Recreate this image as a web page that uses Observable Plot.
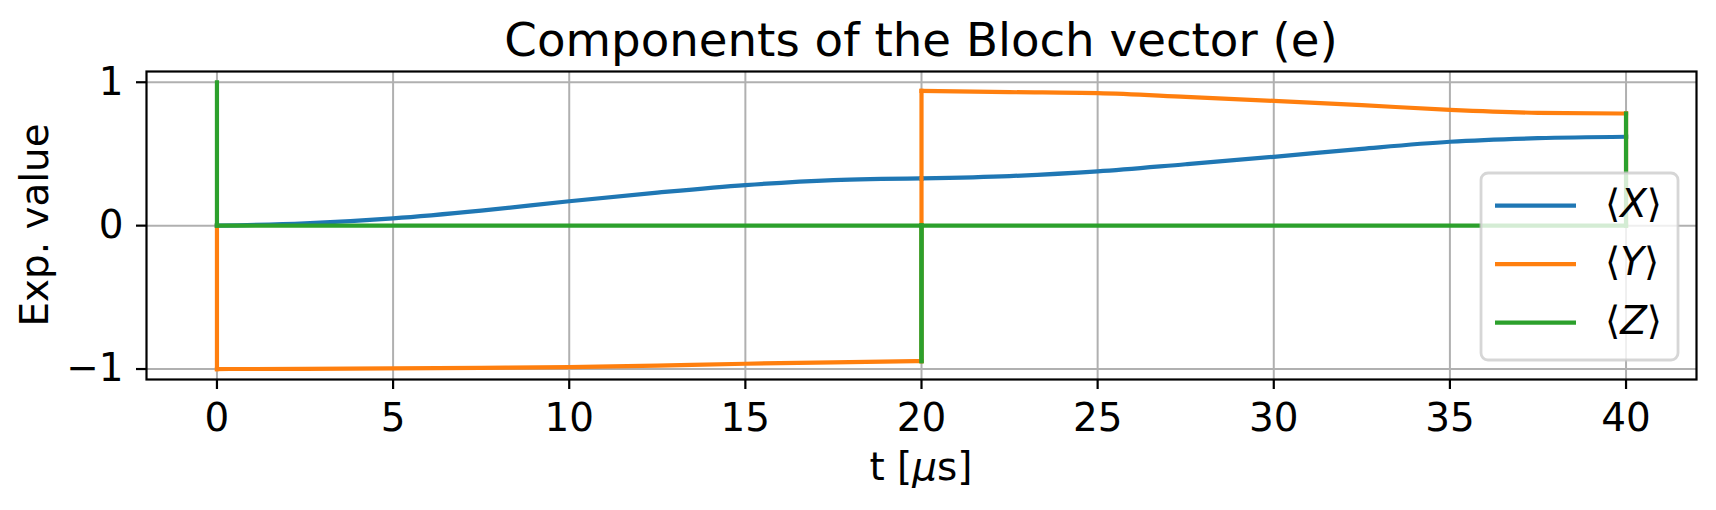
<!DOCTYPE html>
<html><head><meta charset="utf-8">
<script src="https://cdn.jsdelivr.net/npm/d3@7"></script>
<script src="https://cdn.jsdelivr.net/npm/@observablehq/plot@0.6"></script>
<style>
html,body{margin:0;padding:0;background:#fff;}
#chart{width:1716px;height:510px;}
</style></head><body><div id="chart"></div>
<script>
// ---- data ----
const times   = [0, 0, 2.5, 5, 7.5, 10, 12.5, 15, 17.5, 20, 20, 20, 22.5, 25, 27.5, 30, 32.5, 35, 37.5, 40, 40];
const xValues = [0, 0, 0.016, 0.051, 0.105, 0.17, 0.23, 0.283, 0.318, 0.33, 0.33, 0.33, 0.346, 0.378, 0.428, 0.48, 0.536, 0.585, 0.61, 0.62, 0.62];
const yValues = [0, -1, -0.999, -0.996, -0.992, -0.987, -0.976, -0.963, -0.953, -0.945, 0, 0.94, 0.931, 0.924, 0.898, 0.87, 0.84, 0.808, 0.787, 0.782, 0];
const zValues = [1, 0, 0, 0, 0, 0, 0, 0, 0, 0, -0.945, 0, 0, 0, 0, 0, 0, 0, 0, 0, 0.782];
const seriesKeys = ["X", "Y", "Z"];
const seriesValues = [xValues, yValues, zValues];
const seriesColors = ["#1f77b4", "#ff7f0e", "#2ca02c"];
const xTicks = [0, 5, 10, 15, 20, 25, 30, 35, 40];
const yTicks = [-1, 0, 1];
const titleText = "Components of the Bloch vector (e)";
const yLabelText = "Exp. value";

// split each series into smooth runs (increasing t) and instantaneous jumps (equal t)
function toRows(vals) {
  const rows = [];
  let seg = 0;
  let cur = [{t: times[0], v: vals[0]}];
  const flush = () => { if (cur.length > 1) { cur.forEach(p => rows.push({...p, seg})); seg++; } };
  for (let i = 1; i < times.length; i++) {
    const p = {t: times[i], v: vals[i]};
    if (times[i] === times[i - 1]) {
      flush();
      rows.push({t: times[i - 1], v: vals[i - 1], seg}, {...p, seg});
      seg++;
      cur = [p];
    } else cur.push(p);
  }
  flush();
  return rows;
}

const W = 1716, H = 510, mL = 146, mR = 20, mT = 71, mB = 131;
const FS = 38.9;
const lineStyle = {strokeWidth: 4.2, strokeLinejoin: "round", strokeLinecap: "square"};
const fmt = d => d < 0 ? "\u2212" + Math.abs(d) : String(d);

const plot = Plot.plot({
  width: W, height: H,
  marginLeft: mL, marginRight: mR, marginTop: mT, marginBottom: mB,
  style: {fontFamily: "DejaVu Sans", fontSize: FS + "px", background: "#fff", color: "black", overflow: "visible"},
  x: {domain: [-2, 42]},
  y: {domain: [-1.073, 1.075]},
  marks: [
    Plot.gridX({ticks: xTicks, stroke: "#b0b0b0", strokeOpacity: 1, strokeWidth: 2}),
    Plot.gridY({ticks: yTicks, stroke: "#b0b0b0", strokeOpacity: 1, strokeWidth: 2}),
    ...seriesKeys.map((k, i) => Plot.line(toRows(seriesValues[i]), {x: "t", y: "v", z: "seg", curve: "monotone-x", stroke: seriesColors[i], ...lineStyle})),
    Plot.frame({stroke: "black", strokeWidth: 2.2}),
    Plot.axisX({ticks: xTicks, tickSize: 10, tickPadding: 13.5, label: null, strokeWidth: 2.2, tickFormat: fmt}),
    Plot.axisY({ticks: yTicks, tickSize: 10, tickPadding: 13, label: null, strokeWidth: 2.2, tickFormat: fmt})
  ]
});
document.getElementById("chart").appendChild(plot);

const svg = d3.select(plot);
const cx = mL + (W - mL - mR) / 2;
const cy = mT + (H - mT - mB) / 2;

// title
svg.append("text").attr("x", cx).attr("y", 56).attr("text-anchor", "middle")
  .attr("font-size", 46.7).attr("fill", "black").text(titleText);

// x label: t [μs] with italic mu
const xl = svg.append("text").attr("x", cx).attr("y", 480).attr("text-anchor", "middle")
  .attr("font-size", FS).attr("fill", "black");
xl.append("tspan").text("t [");
xl.append("tspan").attr("font-style", "italic").text("\u03bc");
xl.append("tspan").text("s]");

// y label
svg.append("text").attr("transform", `translate(48,${cy}) rotate(-90)`).attr("text-anchor", "middle")
  .attr("font-size", FS).attr("fill", "black").text(yLabelText);

// legend
const lg = svg.append("g");
lg.append("rect").attr("x", 1481).attr("y", 173).attr("width", 197).attr("height", 187)
  .attr("rx", 7).attr("fill", "white").attr("fill-opacity", 0.8)
  .attr("stroke", "#cccccc").attr("stroke-opacity", 0.8).attr("stroke-width", 2.8);
seriesKeys.forEach((k, i) => {
  const y = 205.7 + i * 58.5;
  lg.append("line").attr("x1", 1495).attr("x2", 1576).attr("y1", y).attr("y2", y)
    .attr("stroke", seriesColors[i]).attr("stroke-width", 4.2);
  const t = lg.append("text").attr("x", 1605).attr("y", y + 11).attr("text-anchor", "start")
    .attr("font-size", FS).attr("fill", "black");
  t.append("tspan").text("\u27e8");
  t.append("tspan").attr("font-style", "italic").text(k);
  t.append("tspan").text("\u27e9");
});
</script></body></html>
